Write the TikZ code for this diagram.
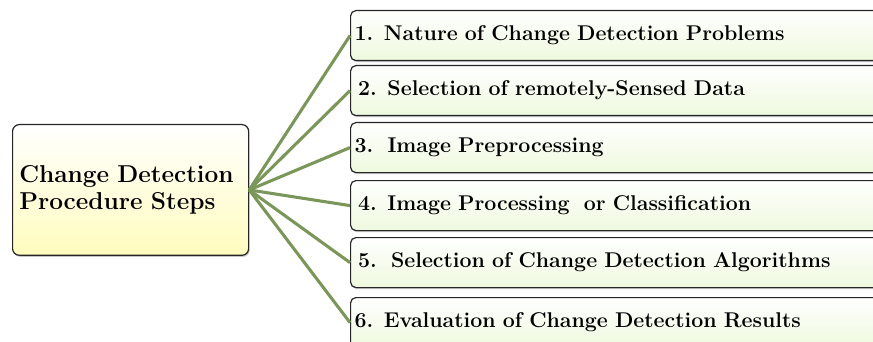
\documentclass[tikz,border=0pt]{standalone}
\usetikzlibrary{positioning,shadows}

\definecolor{linkgreen}{RGB}{122,150,88}
\definecolor{stepgreen}{RGB}{238,249,222}
\definecolor{hubyellow}{RGB}{255,252,190}

\tikzset{
  hubbox/.style={draw=black!85, line width=0.9pt, rounded corners=5pt,
    top color=white, bottom color=hubyellow,
    drop shadow={shadow xshift=0.8pt, shadow yshift=-1.2pt, fill=black!45},
    anchor=north west, minimum width=177pt, minimum height=98pt,
    text width=167pt, inner xsep=5pt, align=left,
    font=\fontsize{18.3}{20.2}\selectfont\bfseries},
  stepbox/.style={draw=black!85, line width=0.9pt, rounded corners=4pt,
    top color=white, bottom color=stepgreen,
    drop shadow={shadow xshift=0.8pt, shadow yshift=-1.2pt, fill=black!45},
    anchor=north west, minimum height=37.5pt,
    text width=397pt, inner xsep=3pt, align=left,
    font=\fontsize{16}{18}\selectfont\bfseries},
  link/.style={draw=linkgreen, line width=2.3pt}
}

\begin{document}
\begin{tikzpicture}[x=0.75pt,y=-0.75pt]
  \useasboundingbox (0,0) rectangle (873,342);
  % centre box
  \node[hubbox] (hub) at (12,124) {Change Detection\\Procedure Steps};
  % the six steps
  \node[stepbox] (s1) at (350,10)  {1. Nature of Change Detection Problems};
  \node[stepbox] (s2) at (350,65)  {\,2. Selection of remotely-Sensed Data};
  \node[stepbox] (s3) at (350,122) {3.\ \ Image Preprocessing};
  \node[stepbox] (s4) at (350,180) {\,4. Image Processing\ \ or Classification};
  \node[stepbox] (s5) at (350,237) {\,5.\ \ Selection of Change Detection Algorithms};
  \node[stepbox] (s6) at (350,297) {6. Evaluation of Change Detection Results};
  % connectors
  \foreach \s in {s1,s2,s3,s4,s5,s6}
    \draw[link] (hub.east) -- (\s.west);
\end{tikzpicture}
\end{document}
